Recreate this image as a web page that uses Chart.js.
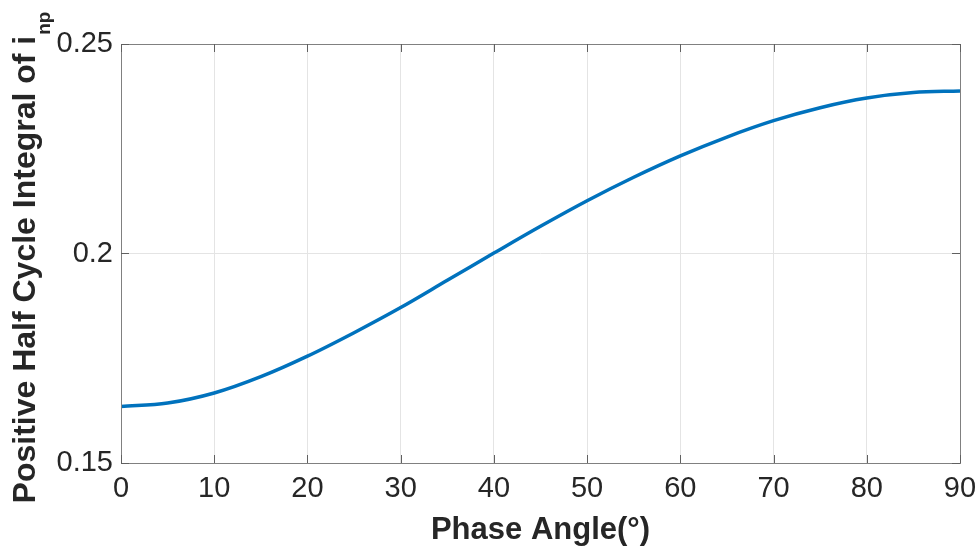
<!DOCTYPE html>
<html>
<head>
<meta charset="utf-8">
<script src="https://cdn.jsdelivr.net/npm/chart.js@4.4.1/dist/chart.umd.min.js"></script>
<style>
  html,body{margin:0;padding:0;background:#fff;}
  #wrap{width:977px;height:549px;position:relative;}
</style>
</head>
<body>
<div id="wrap"><canvas id="chart" width="977" height="549"></canvas></div>
<script>
// values
const phaseAngle=[0,5,10,15,20,25,30,35,40,45,50,55,60,65,70,75,80,85,90];
const halfCycleIntegral=[0.1635,0.1643,0.1667,0.1706,0.1755,0.1811,0.1871,0.1936,0.2001,0.2065,0.2126,0.2182,0.2233,0.2278,0.2317,0.2348,0.2371,0.2384,0.2388];
const xTicks=[0,10,20,30,40,50,60,70,80,90];
const yTicks=[0.15,0.2,0.25];

const TEXT_COLOR="#262626";
const LINE_COLOR="#0072BD";
const FONT="'Liberation Sans', Arial, sans-serif";

/* titulos, caixa e ticks para dentro (estilo matlab) */
const framePlugin={
  id:"frame",
  afterDraw(chart){
    const ctx=chart.ctx;
    const a=chart.chartArea;
    const xs=chart.scales.x, ys=chart.scales.y;
    ctx.save();

    // caixa
    ctx.strokeStyle="#808080";
    ctx.lineWidth=1;
    ctx.strokeRect(Math.round(a.left)+0.5,Math.round(a.top)+0.5,Math.round(a.right-a.left),Math.round(a.bottom-a.top));

    // ticks
    ctx.strokeStyle="#606060";
    ctx.beginPath();
    xTicks.forEach(v=>{
      const px=Math.round(xs.getPixelForValue(v))+0.5;
      ctx.moveTo(px,a.bottom); ctx.lineTo(px,a.bottom-8);
      ctx.moveTo(px,a.top); ctx.lineTo(px,a.top+8);
    });
    yTicks.forEach(v=>{
      const py=Math.round(ys.getPixelForValue(v))+0.5;
      ctx.moveTo(a.left,py); ctx.lineTo(a.left+8,py);
      ctx.moveTo(a.right,py); ctx.lineTo(a.right-8,py);
    });
    ctx.stroke();

    // titulo eixo x
    ctx.fillStyle=TEXT_COLOR;
    ctx.font="bold 31px "+FONT;
    ctx.textAlign="center";
    ctx.textBaseline="alphabetic";
    ctx.fillText("Phase Angle(°)",(a.left+a.right)/2,539);

    // titulo eixo y com subscrito
    const main="Positive Half Cycle Integral of i";
    const sub="np";
    ctx.font="bold 32px "+FONT;
    const wm=ctx.measureText(main).width;
    ctx.font="bold 19px "+FONT;
    const ws=ctx.measureText(sub).width;
    const total=wm+ws;
    ctx.translate(35,258);
    ctx.rotate(-Math.PI/2);
    ctx.textAlign="left";
    ctx.font="bold 32px "+FONT;
    ctx.fillText(main,-total/2,0);
    ctx.font="bold 19px "+FONT;
    ctx.fillText(sub,-total/2+wm+1,15);
    ctx.restore();
  }
};

new Chart(document.getElementById("chart"),{
  type:"line",
  data:{
    datasets:[{
      data:phaseAngle.map((x,i)=>({x:x,y:halfCycleIntegral[i]})),
      borderColor:LINE_COLOR,
      borderWidth:3.5,
      pointRadius:0,
      fill:false,
      tension:0.35
    }]
  },
  options:{
    responsive:false,
    animation:false,
    layout:{padding:{top:44,right:17,left:0,bottom:0}},
    plugins:{legend:{display:false},tooltip:{enabled:false}},
    scales:{
      x:{
        type:"linear",
        min:0,max:90,
        afterBuildTicks:s=>{s.ticks=xTicks.map(v=>({value:v}));},
        afterFit:s=>{s.height=86;s.paddingLeft=0;s.paddingRight=0;},
        grid:{color:"#e4e4e4",drawTicks:false},
        border:{display:false},
        ticks:{
          padding:9,
          maxRotation:0,
          color:TEXT_COLOR,
          font:{family:FONT,size:29},
          callback:v=>String(v)
        }
      },
      y:{
        type:"linear",
        min:0.15,max:0.25,
        afterBuildTicks:s=>{s.ticks=yTicks.map(v=>({value:v}));},
        afterFit:s=>{s.width=121;s.paddingTop=0;s.paddingBottom=0;},
        grid:{color:"#e4e4e4",drawTicks:false},
        border:{display:false},
        ticks:{
          padding:8,
          color:TEXT_COLOR,
          font:{family:FONT,size:29},
          callback:v=>String(+v.toFixed(2))
        }
      }
    }
  },
  plugins:[framePlugin]
});
</script>
</body>
</html>
